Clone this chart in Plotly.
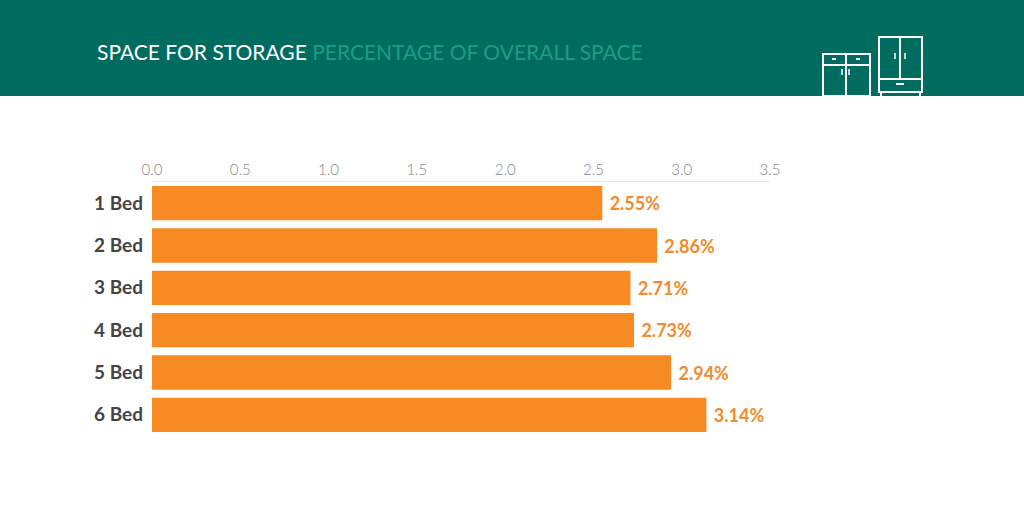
import plotly.graph_objects as go

# data
bedrooms = ["1 Bed", "2 Bed", "3 Bed", "4 Bed", "5 Bed", "6 Bed"]
storage_pct = [2.55, 2.86, 2.71, 2.73, 2.94, 3.14]
tick_vals = [0.0, 0.5, 1.0, 1.5, 2.0, 2.5, 3.0, 3.5]
tick_text = ["0.0", "0.5", "1.0", "1.5", "2.0", "2.5", "3.0", "3.5"]

W, H = 1024, 505
L, R, T, B = 152, 254, 182, 69
PW, PH = W - L - R, H - T - B


def px(x):
    # pixel x -> paper x
    return (x - L) / PW


def py(y):
    # pixel y (from top) -> paper y
    return (H - B - y) / PH


fig = go.Figure(go.Bar(
    x=storage_pct, y=bedrooms, orientation="h",
    marker=dict(color="#F78A22", line=dict(width=0)),
    texttemplate=" %{x:.2f}%", textposition="outside",
    textfont=dict(family="Lato", size=18, color="#F28B2C", weight="bold"),
    cliponaxis=False, hoverinfo="skip",
))

shapes = []
# header band
shapes.append(dict(type="rect", xref="paper", yref="paper",
                   x0=px(0), x1=px(W), y0=py(96), y1=py(0),
                   fillcolor="#006C5F", line=dict(width=0), layer="below"))

# furniture icon
icon = dict(color="white", width=2)
def box(x0, y0, x1, y1):
    shapes.append(dict(type="rect", xref="paper", yref="paper",
                       x0=px(x0), x1=px(x1), y0=py(y1), y1=py(y0), line=icon))
def seg(x0, y0, x1, y1, w=2):
    shapes.append(dict(type="line", xref="paper", yref="paper",
                       x0=px(x0), x1=px(x1), y0=py(y0), y1=py(y1),
                       line=dict(color="white", width=w)))

# sideboard
box(823, 54, 870, 96)
seg(823, 65, 870, 65)
seg(846, 54, 846, 96)
seg(832, 59, 836, 59, 2)
seg(856, 59, 860, 59, 2)
seg(842, 69, 842, 75, 1.5)
seg(849, 69, 849, 75, 1.5)
# wardrobe
box(879, 37, 922, 92)
seg(879, 79, 922, 79)
seg(900, 37, 900, 79)
seg(895, 53, 895, 59, 1.5)
seg(905, 53, 905, 59, 1.5)
seg(896, 84, 904, 84, 2)
seg(881, 92, 881, 96)
seg(920, 92, 920, 96)

fig.update_layout(
    width=W, height=H,
    margin=dict(l=L, r=R, t=T, b=B),
    paper_bgcolor="white", plot_bgcolor="white",
    bargap=0.19, showlegend=False,
    shapes=shapes,
    annotations=[dict(
        xref="paper", yref="paper", x=px(95), y=py(51),
        xanchor="left", yanchor="middle", showarrow=False,
        text="SPACE FOR STORAGE <span style='color:#1E9C86'>PERCENTAGE OF OVERALL SPACE</span>",
        font=dict(family="Lato", size=21, color="white"),
    )],
    xaxis=dict(
        range=[0, 3.5], side="top", tickvals=tick_vals, ticktext=tick_text,
        showgrid=False, zeroline=False, showline=True, linecolor="#E8E8E8",
        linewidth=1, ticks="", ticklabelstandoff=0,
        tickfont=dict(family="Lato", size=15, color="#858585", weight=300),
    ),
    yaxis=dict(
        autorange="reversed", showgrid=False, zeroline=False, showline=False,
        ticks="", ticklabelstandoff=8,
        tickfont=dict(family="Lato", size=19, color="#444444", weight="bold"),
    ),
)

fig.write_html("out.html", config={"displayModeBar": False},
               post_script="document.body.style.margin='0px';")
